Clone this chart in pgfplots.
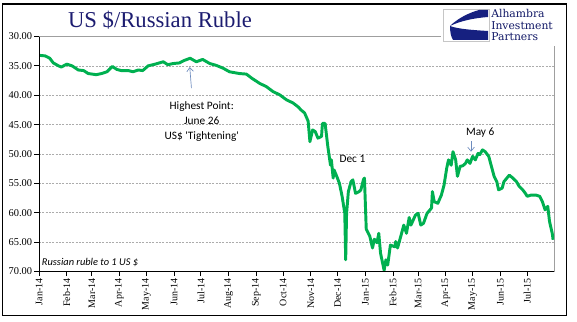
\documentclass[border=0pt]{standalone}
\usepackage{fontspec}
\setmainfont{Liberation Serif}
\newfontfamily\calibri{Carlito}
\newfontfamily\logofont{DejaVu Serif}
\usepackage{pgfplots}
\pgfplotsset{compat=1.18}
\usetikzlibrary{arrows.meta}
\definecolor{rgreen}{RGB}{0,176,80}
\definecolor{navy}{RGB}{28,28,112}
\definecolor{arrowblue}{RGB}{110,140,190}
\definecolor{logoblue}{RGB}{22,32,128}
\begin{document}
\begin{tikzpicture}
\begin{scope}[x=0.75pt,y=-0.75pt]
\path[use as bounding box] (0,0) rectangle (577,321);
\end{scope}
\begin{axis}[
  at={(29.25pt,-203.625pt)}, anchor=south west,
  scale only axis, width=386.25pt, height=176.25pt,
  xmin=0, xmax=576, ymin=30, ymax=70, y dir=reverse,
  xtick={0,31,59,90,120,151,181,212,243,273,304,334,365,396,424,455,485,516,546},
  xticklabels={Jan-14,Feb-14,Mar-14,Apr-14,May-14,Jun-14,Jul-14,Aug-14,Sep-14,Oct-14,Nov-14,Dec-14,Jan-15,Feb-15,Mar-15,Apr-15,May-15,Jun-15,Jul-15},
  x tick label style={rotate=90, anchor=east, font=\fontsize{7.5}{8}\selectfont, inner sep=1.5pt},
  ytick={30,35,...,70},
  y tick label style={font=\fontsize{7.8}{8}\selectfont, inner sep=1.5pt},
  /pgf/number format/assume math mode=true,
  yticklabel={\pgfmathprintnumber[fixed,fixed zerofill,precision=2]{\tick}},
  tick pos=left, tick align=outside, major tick length=3.5pt,
  tick style={black, line width=0.6pt},
  ymajorgrids, grid style={dash pattern=on 1.5pt off 1pt, gray!65, line width=0.5pt},
  axis line style={gray!75, line width=0.6pt},
]
\addplot[rgreen, line width=2.2pt, line join=round, no markers] coordinates {
(0,33.2) (7,33.3) (12,33.7) (16,34.5) (22,35.0) (25,35.2) (31,34.7) (37,35.0)
(44,35.7) (50,35.8) (55,36.3) (64,36.5) (70,36.3) (76,36.0) (82,35.1) (87,35.6)
(92,35.8) (100,35.8) (105,36.0) (111,35.7) (116,35.8) (122,35.0) (130,34.7)
(139,34.3) (144,34.8) (150,34.6) (157,34.5) (162,34.1) (169,33.7) (176,34.3)
(183,33.9) (191,34.6) (198,34.9) (206,35.4) (213,36.0) (224,36.3) (232,36.4)
(238,37.1) (247,38.0) (254,38.5) (262,39.4) (269,39.9) (277,40.8) (284,41.3)
(290,42.0) (293,42.5) (297,43.0) (301,44.4) (303,47.9) (306,45.9) (309,46.2)
(312,47.3) (316,47.0) (317,44.8) (320,44.8) (323,48.7) (326,51.9) (327,51.0)
(329,54.1) (330,52.7) (333,53.8) (336,55.0) (339,57.2) (342,60.1) (343,68.0)
(344,60.1) (346,56.4) (349,54.7) (351,54.4) (354,56.7) (358,56.4) (360,56.1)
(363,54.3) (364,54.1) (366,62.8) (370,64.0) (373,66.0) (375,64.5) (378,65.1)
(380,63.5) (382,66.9) (386,69.8) (388,68.0) (390,68.9) (393,65.5) (398,65.8)
(399,64.9) (401,66.0) (405,63.8) (408,62.1) (411,63.5) (414,60.8) (416,62.1)
(421,60.4) (424,60.1) (427,62.1) (430,61.8) (434,60.1) (439,59.2) (440,56.4)
(442,58.1) (446,58.4) (450,57.0) (453,55.3) (456,52.4) (458,51.0) (461,51.9)
(463,49.6) (466,51.0) (468,53.8) (471,52.1) (474,52.0) (477,51.6) (479,51.0)
(482,51.6) (485,50.4) (488,51.0) (491,49.9) (493,50.1) (496,49.3) (499,49.6)
(503,50.4) (506,52.1) (509,53.8) (512,54.7) (514,56.1) (518,55.8) (520,54.7)
(526,53.6) (530,54.1) (534,54.7) (537,55.5) (541,56.1) (544,56.7) (546,57.2)
(550,57.0) (556,57.0) (560,57.2) (563,58.1) (566,59.5) (569,58.9) (571,61.5)
(574,63.5) (575,64.6)
};
\draw[black, line width=0.7pt] (axis description cs:0,1) -- (axis description cs:0,0) -- (axis description cs:1,0);
\node[anchor=west, font=\calibri\itshape\fontsize{7.8}{8}\selectfont, inner sep=0pt] at (axis cs:3,68.5) {Russian ruble to 1 US \$};
\node[align=center, font=\calibri\fontsize{8.5}{11.25}\selectfont] at (axis cs:182,44.4) {Highest Point:\\June 26\\US\$ \textquotesingle Tightening\textquotesingle};
\draw[arrowblue, line width=0.5pt, -{Straight Barb[length=3pt,width=5pt]}] (axis cs:170.5,38.8) -- (axis cs:168.6,35.2);
\node[font=\calibri\fontsize{8.5}{10}\selectfont] at (axis cs:350.6,50.8) {Dec 1};
\node[font=\calibri\fontsize{8.5}{10}\selectfont] at (axis cs:493.5,46.4) {May 6};
\draw[arrowblue, line width=0.5pt, -{Straight Barb[length=3pt,width=5pt]}] (axis cs:483.2,47.8) -- (axis cs:483.2,49.6);
\end{axis}
\begin{scope}[x=0.75pt,y=-0.75pt]
\draw[black, line width=1pt] (2.5,4) rectangle (566.7,315.7);
\node[navy, font=\fontsize{17}{18}\selectfont] at (160,20) {US \$/Russian Ruble};
% logo
\fill[white] (441,6) rectangle (562,46);
\draw[gray!45, line width=0.6pt, fill=white] (443,9) rectangle (489,41);
\fill[logoblue] (488,10) -- (479,10) .. controls (468,13) and (457,19) .. (450,26)
   .. controls (460,21) and (474,18) .. (488,17) -- cycle;
\fill[logoblue] (450,26) .. controls (450,32) and (451,37) .. (453,40) -- (488,40) -- (488,31)
   .. controls (472,30) and (458,29) .. (450,26) -- cycle;
\node[anchor=north west, align=left, logoblue!80!black, font=\logofont\fontsize{8.1}{8.7}\selectfont, inner sep=0pt] at (491,9) {Alhambra\\Investment\\Partners};
\end{scope}
\end{tikzpicture}
\end{document}
